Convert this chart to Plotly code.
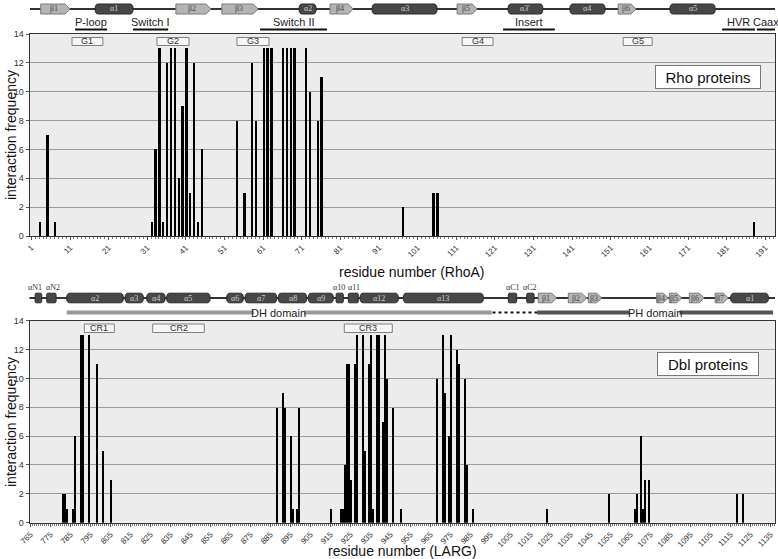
import plotly.graph_objects as go

W, H = 778, 559

# ---------------- data ----------------
rho_residue = [3, 5, 7,
               32, 33, 34, 35, 36, 37, 38, 39, 40, 41, 42, 43, 44, 45,
               54, 56, 58, 59, 61, 62, 63, 66, 67, 68, 69, 72, 73, 75, 76,
               97, 105, 106, 188]
rho_freq = [1, 7, 1,
            1, 6, 13, 1, 12, 13, 13, 4, 9, 13, 3, 12, 1, 6,
            8, 3, 12, 8, 13, 13, 13, 13, 13, 13, 13, 13, 10, 8, 11,
            2, 3, 3, 1]

larg_residue = [781, 782, 783, 786, 787, 790, 791, 794, 798, 801, 805,
                888, 891, 892, 895, 896, 898, 899,
                915, 920, 921, 922, 923, 924, 925, 927, 928, 931, 932, 934, 935, 936,
                938, 939, 941, 942, 943, 946, 950,
                968, 971, 972, 974, 975, 978, 979, 982, 983, 986,
                1023, 1054, 1067, 1068, 1070, 1071, 1072, 1074, 1118, 1121]
larg_freq = [2, 2, 1, 1, 6, 13, 13, 13, 11, 5, 3,
             8, 9, 8, 6, 1, 1, 8,
             1, 1, 1, 4, 11, 11, 3, 11, 13, 13, 5, 11, 13, 1,
             13, 13, 7, 13, 10, 8, 1,
             10, 13, 9, 6, 13, 12, 11, 10, 4, 1,
             1, 2, 1, 2, 6, 1, 3, 3, 2, 2]

rho_ticks = list(range(1, 192, 10))
larg_ticks = list(range(765, 1136, 10))

# secondary structure of RhoA (residue ranges)
rho_helices = [("α1", 17.5, 27.3), ("α2", 70.3, 74.7), ("α3", 89.2, 106.0),
               ("α3'", 124.4, 133.4), ("α4", 140.4, 149.5), ("α5", 166.3, 178.0)]
rho_strands = [("β1", 3.4, 11.0), ("β2", 38.4, 47.5), ("β3", 50.3, 59.7),
               ("β4", 78.3, 84.3), ("β5", 111.2, 116.4), ("β6", 152.9, 157.5)]
rho_regions = [("P-loop", 12.3, 20.6), ("Switch I", 27.3, 36.4), ("Switch II", 60.2, 77.5),
               ("Insert", 123.1, 136.5), ("HVR", 179.8, 188.3), ("Caax", 188.8, 193.5)]
rho_motifs = [("G1", 11.5, 19.5), ("G2", 33.5, 41.8), ("G3", 54.2, 62.5),
              ("G4", 112.5, 120.5), ("G5", 154.2, 161.7)]

# secondary structure of LARG (residue ranges)
larg_helices = [("α2", 783.1, 811.4), ("α3", 812.3, 821.4), ("α4", 823.1, 832.3),
                ("α5", 833.1, 854.8), ("α6", 863.1, 871.4), ("α7", 872.3, 888.1),
                ("α8", 888.9, 903.1), ("α9", 903.9, 916.4), ("α12", 929.8, 948.9),
                ("α13", 951.4, 991.4), ("α1", 1115.1, 1133.9)]
larg_small_helices = [("αN1", 767.3, 770.6), ("αN2", 773.1, 777.8), ("α10", 917.8, 921.4),
                      ("α11", 923.9, 928.9), ("αC1", 1003.9, 1008.1), ("αC2", 1013.1, 1016.8)]
larg_strands = [("β1", 1018.9, 1028.1), ("β2", 1033.9, 1043.1), ("β3", 1043.9, 1050.6),
                ("β4", 1078.1, 1083.9), ("β5", 1084.4, 1090.6), ("β6", 1094.4, 1101.8),
                ("β7", 1107.3, 1113.9)]
larg_domains = [("DH domain", 783.1, 995.6, 889.2, "#9a9a9a"), ("PH domain", 1018.3, 1136.3, 1077.0, "#555555")]
larg_linker = (996.0, 1018.3)
larg_motifs = [("CR1", 791.9, 806.9), ("CR2", 826.1, 851.9), ("CR3", 921.9, 945.9)]

# ---------------- figure ----------------
def yp(px):
    return 1 - px / H

X0, X1 = 29.5 / W, 775 / W
SANS = "Liberation Sans, Arial, sans-serif"
SERIF = "Liberation Serif, Times New Roman, serif"

fig = go.Figure()
fig.add_trace(go.Bar(x=rho_residue, y=rho_freq, width=0.6, marker=dict(color="black", line=dict(width=0)),
                     xaxis="x", yaxis="y", showlegend=False))
fig.add_trace(go.Bar(x=larg_residue, y=larg_freq, width=0.7, marker=dict(color="black", line=dict(width=0)),
                     xaxis="x2", yaxis="y2", showlegend=False))

shapes = []
annotations = []

def ann(**kw):
    kw.setdefault("showarrow", False)
    kw.setdefault("xanchor", "center")
    kw.setdefault("yanchor", "middle")
    annotations.append(kw)

def rounded(x0, x1, y0, y1, rx, ry):
    return (f"M {x0+rx},{y0} L {x1-rx},{y0} Q {x1},{y0} {x1},{y0+ry} L {x1},{y1-ry} "
            f"Q {x1},{y1} {x1-rx},{y1} L {x0+rx},{y1} Q {x0},{y1} {x0},{y1-ry} "
            f"L {x0},{y0+ry} Q {x0},{y0} {x0+rx},{y0} Z")

def arrow(x0, x1, y0, y1, tip):
    ym = (y0 + y1) / 2
    return f"M {x0},{y0} L {x1-tip},{y0} L {x1},{ym} L {x1-tip},{y1} L {x0},{y1} Z"

label_shift = {"αN1": -1.8, "αN2": 1.0, "α10": -0.5, "α11": 0.5}

def diagram(xref, line_x, cy, half, helices, strands, ux, small=None):
    y0, y1 = yp(cy + half), yp(cy - half)
    shapes.append(dict(type="line", xref=xref, yref="paper", x0=line_x[0], x1=line_x[1],
                       y0=yp(cy), y1=yp(cy), line=dict(color="#333333", width=2), layer="above"))
    for name, a, b in helices:
        shapes.append(dict(type="path", xref=xref, yref="paper",
                           path=rounded(a, b, y0, y1, 3 * ux, (y1 - y0) / 2.2),
                           fillcolor="#474747", line=dict(color="#2a2a2a", width=1), layer="above"))
        ann(x=(a + b) / 2, y=yp(cy), xref=xref, yref="paper", text=name,
            font=dict(family=SERIF, size=8, color="#cfcfcf"))
    for name, a, b in strands:
        shapes.append(dict(type="path", xref=xref, yref="paper",
                           path=arrow(a, b, y0, y1, 5 * ux),
                           fillcolor="#b4b4b4", line=dict(color="#7a7a7a", width=1), layer="above"))
        ann(x=(a + b) / 2 - 1.5 * ux, y=yp(cy), xref=xref, yref="paper", text=name,
            font=dict(family=SERIF, size=8, color="#444444"))
    if small:
        for name, a, b in small:
            shapes.append(dict(type="path", xref=xref, yref="paper",
                               path=rounded(a, b, y0, y1, 1 * ux, (y1 - y0) / 5),
                               fillcolor="#474747", line=dict(color="#2a2a2a", width=1), layer="above"))
            ann(x=(a + b) / 2 + label_shift.get(name, 0), y=yp(cy - half + 0.5), xref=xref, yref="paper",
                text=name, yanchor="bottom", font=dict(family=SERIF, size=8, color="#333333"))

def motif_boxes(xref, motifs, top, bot):
    for name, a, b in motifs:
        shapes.append(dict(type="rect", xref=xref, yref="paper", x0=a, x1=b, y0=yp(bot), y1=yp(top),
                           fillcolor="#f6f6f6", line=dict(color="#808080", width=1), layer="above"))
        ann(x=(a + b) / 2, y=yp((top + bot) / 2), xref=xref, yref="paper", text=name,
            font=dict(family=SANS, size=9, color="#333333"))

# top diagram (RhoA)
diagram("x", (0.63, 193.5), 9, 5, rho_helices, rho_strands, 1 / 3.8627)
for name, a, b in rho_regions:
    shapes.append(dict(type="line", xref="x", yref="paper", x0=a, x1=b, y0=yp(29.5), y1=yp(29.5),
                       line=dict(color="#111111", width=2)))
    ann(x=(a + b) / 2, y=yp(22.5), xref="x", yref="paper", text=name,
        font=dict(family=SANS, size=11, color="#222222"))
motif_boxes("x", rho_motifs, 37.5, 45.5)

# bottom diagram (LARG)
diagram("x2", (763.8, 1137.25), 298, 4.8, larg_helices, larg_strands, 0.5, larg_small_helices)
DOM_Y = yp(312.5)
for name, a, b, mid, col in larg_domains:
    gap = 12.5
    shapes.append(dict(type="line", xref="x2", yref="paper", x0=a, x1=mid - gap, y0=DOM_Y, y1=DOM_Y,
                       line=dict(color=col, width=4)))
    shapes.append(dict(type="line", xref="x2", yref="paper", x0=mid + gap, x1=b, y0=DOM_Y, y1=DOM_Y,
                       line=dict(color=col, width=4)))
    ann(x=mid, y=DOM_Y, xref="x2", yref="paper", text=name,
        font=dict(family=SANS, size=11, color="#222222"))
shapes.append(dict(type="line", xref="x2", yref="paper", x0=larg_linker[0], x1=larg_linker[1],
                   y0=DOM_Y, y1=DOM_Y, line=dict(color="#111111", width=2, dash="dot")))
motif_boxes("x2", larg_motifs, 324, 332.5)

# legend-like labels
ann(x=708 / W, y=yp(77), xref="paper", yref="paper", text="Rho proteins",
    bgcolor="white", bordercolor="#777777", borderwidth=1, width=102, height=20,
    font=dict(family=SANS, size=15, color="#111111"))
ann(x=707.5 / W, y=yp(364), xref="paper", yref="paper", text="Dbl proteins",
    bgcolor="white", bordercolor="#777777", borderwidth=1, width=98, height=20,
    font=dict(family=SANS, size=15, color="#111111"))

# axis titles
for yc in (135, 422):
    ann(x=11 / W, y=yp(yc), xref="paper", yref="paper", text="interaction frequency", textangle=-90,
        font=dict(family=SANS, size=14, color="#111111"))
ann(x=412 / W, y=yp(272), xref="paper", yref="paper", text="residue number (RhoA)",
    font=dict(family=SANS, size=14, color="#111111"))
ann(x=402 / W, y=yp(551), xref="paper", yref="paper", text="residue number (LARG)",
    font=dict(family=SANS, size=14, color="#111111"))

xcommon = dict(showgrid=False, zeroline=False, showline=True, linecolor="#333333", linewidth=1,
               mirror=True, ticks="outside", ticklen=3, tickcolor="#555555", tickangle=-45,
               automargin=False,
               tickfont=dict(family=SANS, size=8, color="#333333"),
               minor=dict(ticks="outside", ticklen=2, dtick=1, tickcolor="#777777", showgrid=False))
ycommon = dict(range=[0, 14], dtick=2, showgrid=True, gridcolor="#9a9a9a", gridwidth=1, zeroline=False,
               showline=True, linecolor="#333333", linewidth=1, mirror=True, ticks="outside", ticklen=3,
               automargin=False,
               tickcolor="#555555", tickfont=dict(family=SANS, size=9, color="#333333"))

fig.update_layout(
    width=W, height=H, autosize=False,
    margin=dict(l=0, r=0, t=0, b=0, autoexpand=False),
    paper_bgcolor="white", plot_bgcolor="#ececec",
    xaxis=dict(domain=[X0, X1], anchor="y", range=[0.5, 193.5], tickmode="array", tickvals=rho_ticks,
               **xcommon),
    yaxis=dict(domain=[yp(236), yp(34)], anchor="x", **ycommon),
    xaxis2=dict(domain=[X0, X1], anchor="y2", range=[764.5, 1137.25], tickmode="array", tickvals=larg_ticks,
                **xcommon),
    yaxis2=dict(domain=[yp(522.7), yp(320.7)], anchor="x2", **ycommon),
    shapes=shapes, annotations=annotations, showlegend=False, bargap=0,
)

fig.write_html("out.html", config={"displayModeBar": False},
               post_script="document.body.style.margin='0px';document.body.style.overflow='hidden';")
